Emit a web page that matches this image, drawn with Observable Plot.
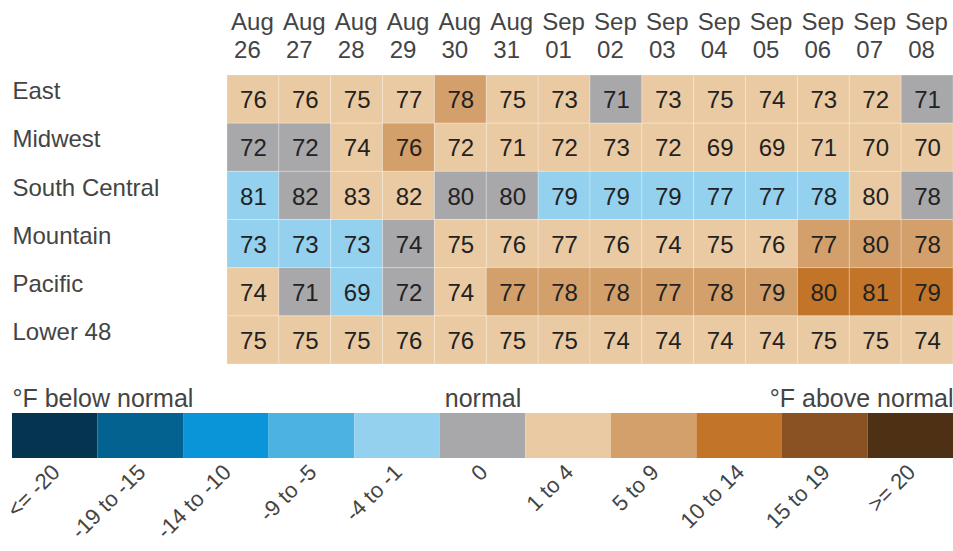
<!DOCTYPE html>
<html>
<head>
<meta charset="utf-8">
<script src="https://cdn.jsdelivr.net/npm/d3@7"></script>
<script src="https://cdn.jsdelivr.net/npm/@observablehq/plot@0.6"></script>
<style>
  html, body { margin: 0; padding: 0; background: #fff; overflow: hidden; }
  #chart svg { display: block; }
</style>
</head>
<body>
<div id="chart"></div>
<script>
const regions = ["East", "Midwest", "South Central", "Mountain", "Pacific", "Lower 48"];
const months = ["Aug","Aug","Aug","Aug","Aug","Aug","Sep","Sep","Sep","Sep","Sep","Sep","Sep","Sep"];
const days = ["26","27","28","29","30","31","01","02","03","04","05","06","07","08"];

const tempEast         = [76,76,75,77,78,75,73,71,73,75,74,73,72,71];
const tempMidwest      = [72,72,74,76,72,71,72,73,72,69,69,71,70,70];
const tempSouthCentral = [81,82,83,82,80,80,79,79,79,77,77,78,80,78];
const tempMountain     = [73,73,73,74,75,76,77,76,74,75,76,77,80,78];
const tempPacific      = [74,71,69,72,74,77,78,78,77,78,79,80,81,79];
const tempLower48      = [75,75,75,76,76,75,75,74,74,74,74,75,75,74];

// departure category index (into categories)
const catEast         = [6,6,6,6,7,6,6,5,6,6,6,6,6,5];
const catMidwest      = [5,5,6,7,6,6,6,6,6,6,6,6,6,6];
const catSouthCentral = [4,5,6,6,5,5,4,4,4,4,4,4,6,5];
const catMountain     = [4,4,4,5,6,6,6,6,6,6,6,7,7,7];
const catPacific      = [6,5,4,5,6,7,7,7,7,7,7,8,8,8];
const catLower48      = [6,6,6,6,6,6,6,6,6,6,6,6,6,6];

const categories = ["<= -20","-19 to -15","-14 to -10","-9 to -5","-4 to -1","0","1 to 4","5 to 9","10 to 14","15 to 19",">= 20"];
const colors = ["#04344f","#03628f","#0a95d8","#4cb2e0","#94d1ef","#a8a7aa","#eacaa3","#d39f6a","#c27429","#8a5122","#4e3115"];

const temps = [tempEast, tempMidwest, tempSouthCentral, tempMountain, tempPacific, tempLower48];
const cats = [catEast, catMidwest, catSouthCentral, catMountain, catPacific, catLower48];
const dates = months.map((m, i) => m + " " + days[i]);

const cells = [];
regions.forEach((r, ri) => {
  dates.forEach((d, di) => {
    cells.push({region: r, date: d, temp: temps[ri][di], cat: categories[cats[ri][di]]});
  });
});
const header = dates.map((d, i) => ({date: d, month: months[i], day: days[i]}));

const font = "'Liberation Sans', Arial, Helvetica, sans-serif";

const heat = Plot.plot({
  width: 953,
  height: 370,
  marginLeft: 227,
  marginRight: 0,
  marginTop: 75,
  marginBottom: 6,
  style: {fontFamily: font, background: "#fff"},
  x: {domain: dates, padding: 0, round: false, axis: null},
  y: {domain: regions, padding: 0, round: false, axis: null},
  color: {type: "ordinal", domain: categories, range: colors},
  marks: [
    Plot.cell(cells, {x: "date", y: "region", fill: "cat", stroke: "#fff", strokeOpacity: 0.25, strokeWidth: 1}),
    Plot.text(cells, {x: "date", y: "region", text: d => String(d.temp), fontSize: 24, fill: "#222", dy: 1}),
    Plot.text(regions, {y: d => d, frameAnchor: "left", text: d => d, textAnchor: "start", lineAnchor: "middle", dx: -215, dy: -8, fontSize: 24, fill: "#444"}),
    Plot.text(header, {x: "date", frameAnchor: "top", lineAnchor: "middle", text: "month", dy: -53, dx: -1, fontSize: 24, fill: "#444"}),
    Plot.text(header, {x: "date", frameAnchor: "top", lineAnchor: "middle", text: "day", dy: -25, dx: -6, fontSize: 24, fill: "#444"})
  ]
});

const legend = Plot.plot({
  width: 953,
  height: 181,
  marginLeft: 12,
  marginRight: 0,
  marginTop: 43,
  marginBottom: 93,
  style: {fontFamily: font, background: "#fff"},
  x: {domain: categories, padding: 0, round: false, axis: null},
  color: {type: "ordinal", domain: categories, range: colors},
  marks: [
    Plot.cell(categories, {x: d => d, fill: d => d}),
    Plot.text(["°F below normal"], {frameAnchor: "top-left", lineAnchor: "middle", textAnchor: "start", dy: -15, fontSize: 25, fill: "#444"}),
    Plot.text(["normal"], {x: () => "0", frameAnchor: "top", lineAnchor: "middle", dy: -15, fontSize: 25, fill: "#444"}),
    Plot.text(["°F above normal"], {frameAnchor: "top-right", lineAnchor: "middle", textAnchor: "end", dy: -15, fontSize: 25, fill: "#444"}),
    Plot.text(categories, {x: d => d, frameAnchor: "bottom", text: d => d, rotate: -45, textAnchor: "end", dx: 6, dy: 15, fontSize: 22, fill: "#444"})
  ]
});

document.getElementById("chart").append(heat, legend);
</script>
</body>
</html>
